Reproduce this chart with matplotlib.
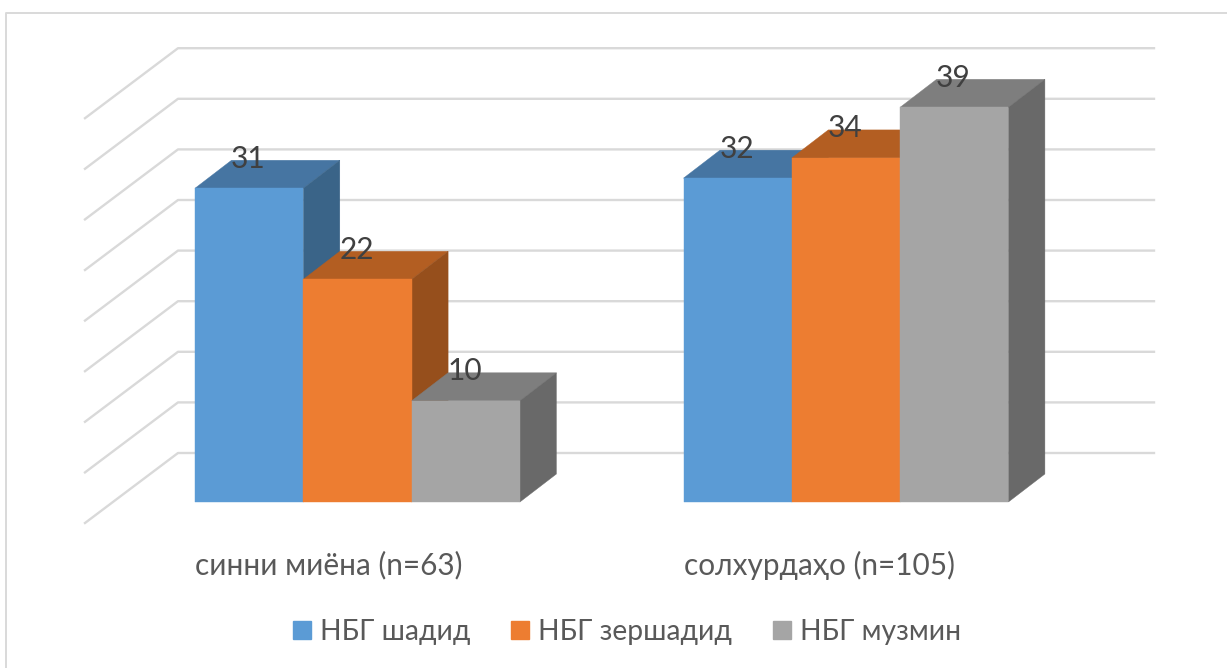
import matplotlib
matplotlib.use("Agg")
import matplotlib.pyplot as plt
from matplotlib.patches import Polygon, Patch

plt.rcParams['font.family'] = ['Lato', 'Noto Sans', 'DejaVu Sans']

# data
categories = ["синни миёна (n=63)", "солхурдаҳо (n=105)"]
series = ["НБГ шадид", "НБГ зершадид", "НБГ музмин"]
shadid = [31, 32]
zershadid = [22, 34]
muzmin = [10, 39]
grid_values = [0, 5, 10, 15, 20, 25, 30, 35, 40]

# colors: front, top, side
front_colors = ["#5B9BD5", "#ED7D31", "#A5A5A5"]
top_colors = ["#4675A2", "#B35E22", "#7E7E7E"]
side_colors = ["#3A6488", "#964F1C", "#696969"]
text_color = "#595959"
label_color = "#404040"
grid_color = "#D9D9D9"

W, H = 1227, 668
PX = 10.12  # pixels per unit
base_px = 502

fig = plt.figure(figsize=(W / 100, H / 100), dpi=100)
ax = fig.add_axes([0, 0, 1, 1])
ax.set_xlim(0, W)
ax.set_ylim(-(H - base_px) / PX, base_px / PX)
ax.axis("off")

u = lambda px: px / PX

# chart border, only top and left show
ax.plot([6, 6, W], [u(base_px - H), u(base_px - 12.5), u(base_px - 12.5)], color="#D9D9D9", lw=1.4)

# walls
wall_floor = u(49)
for g in grid_values:
    y = wall_floor + g
    ax.plot([85, 178, 1154], [y - u(70), y, y], color=grid_color, lw=1.7, zorder=1)

# bars
group_left = [195, 683.5]
bar_w = 108.3
dx, dy = 36.5, u(28)
for s, vals in enumerate([shadid, zershadid, muzmin]):
    for g, v in enumerate(vals):
        x0 = group_left[g] + s * bar_w
        x1 = x0 + bar_w
        ax.add_patch(Polygon([(x0, v), (x1, v), (x1 + dx, v + dy), (x0 + dx, v + dy)],
                             fc=top_colors[s], ec=top_colors[s], lw=0.3, zorder=2 + s))
        ax.add_patch(Polygon([(x1, 0), (x1 + dx, dy), (x1 + dx, v + dy), (x1, v)],
                             fc=side_colors[s], ec=side_colors[s], lw=0.3, zorder=2 + s))
        ax.add_patch(Polygon([(x0, 0), (x1, 0), (x1, v), (x0, v)],
                             fc=front_colors[s], ec=front_colors[s], lw=0.3, zorder=2 + s))
        ax.text(x0 + bar_w / 2 - 1, v + u(29.5), str(v), ha="center", va="center",
                fontsize=21.5, color=label_color, zorder=10)

# category labels
for g, c in enumerate(categories):
    ax.text(group_left[g], u(base_px - 565), c, ha="left", va="center",
            fontsize=21.4, color=text_color)

# legend
handles = [Patch(fc=c, ec=c, label=n) for c, n in zip(front_colors, series)]
ax.legend(handles=handles, ncol=3, loc="center", bbox_to_anchor=(627 / W, 1 - 632 / H),
          frameon=False, fontsize=20.3, labelcolor=text_color, handlelength=0.64,
          handleheight=0.64, handletextpad=0.32, columnspacing=1.45)

fig.savefig("out.png", dpi=100)
